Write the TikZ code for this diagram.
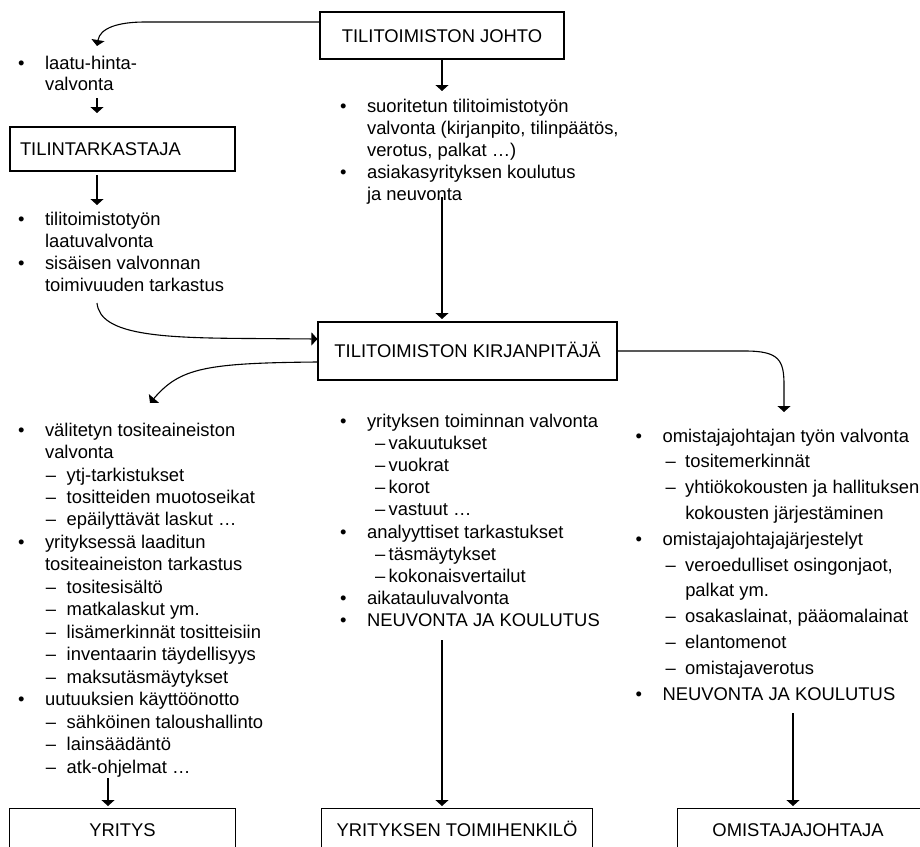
\documentclass[tikz,border=0pt]{standalone}
\usepackage{fontspec}
\setmainfont{Liberation Sans}
\usetikzlibrary{arrows.meta}

% list helpers: bullet, continuation, dash items with per-column offsets
\newcommand\topstrut{\rule{0pt}{18pt}}
\newcommand\bul{\makebox[27pt][l]{•}}
\newcommand\cont{\hspace*{27pt}}
\newcommand\dashat[2]{\hspace*{\dimexpr27pt+#1\relax}\makebox[\dimexpr#2-#1\relax][l]{–}}
\newcommand\subat[1]{\hspace*{\dimexpr27pt+#1\relax}}
\newcommand\dashL{\dashat{0.7pt}{21.7pt}}
\newcommand\dashM{\dashat{8pt}{21.7pt}}
\newcommand\dashR{\dashat{3pt}{22.7pt}}
\newcommand\subR{\subat{22.7pt}}

\begin{document}
\begin{tikzpicture}[x=1pt,y=-1pt,
  line width=1.1pt,
  arr/.style={-{Triangle[width=13pt,length=6pt]}},
  box/.style={draw, inner sep=0pt, text height=13pt, text depth=0pt,
    font=\fontsize{18.4pt}{22.4pt}\selectfont},
  openbox/.style={inner sep=0pt, text height=18pt, text depth=0pt,
    minimum height=37pt, font=\fontsize{18.4pt}{22.4pt}\selectfont},
  tx/.style={anchor=north west, inner sep=0pt, align=left},
  ls/.style={font=\fontsize{18.4pt}{#1}\selectfont}]

\useasboundingbox (0,0) rectangle (920,846);
\clip (0,0) rectangle (920,846);

% boxes
\node[box, minimum width=244pt, minimum height=47pt] (johto) at (442,35.5) {TILITOIMISTON JOHTO};
\node[box, align=left, text width=205pt, inner xsep=10pt, minimum height=44pt] (tilintark) at (122.5,149) {TILINTARKASTAJA};
\node[box, minimum width=299pt, minimum height=58pt] (kirj) at (467.5,351) {TILITOIMISTON KIRJANPITÄJÄ};

% bottom boxes run off the lower edge, so only three sides show
\node[openbox, minimum width=225pt] (yritys) at (122.5,827.5) {YRITYS};
\node[openbox, minimum width=270pt] (toimih) at (457,827.5) {YRITYKSEN TOIMIHENKILÖ};
\node[openbox, minimum width=250pt] (omist) at (803,827.5) {OMISTAJAJOHTAJA\hspace*{10pt}};
\foreach \b in {yritys,toimih,omist}
  \draw ([yshift=-6pt]\b.south west) -- (\b.north west) -- (\b.north east) -- ([yshift=-6pt]\b.south east);

% text blocks
\node[tx, ls=21.5pt] (laatu) at (17.5,50.5) {\topstrut\bul laatu-hinta-\\ \cont valvonta};
\node[tx, ls=22.3pt] (tbul) at (17.5,206.5) {\topstrut\bul tilitoimistotyön\\ \cont laatuvalvonta\\ \bul sisäisen valvonnan\\ \cont toimivuuden tarkastus};
\node[tx, ls=22pt] (mtop) at (339.5,93.5) {\topstrut\bul suoritetun tilitoimistotyön\\ \cont valvonta (kirjanpito, tilinpäätös,\\ \cont verotus, palkat …)\\ \bul asiakasyrityksen koulutus\\ \cont ja neuvonta};

\node[tx, ls=22.47pt] (lcol) at (17.5,417.5) {\topstrut\bul välitetyn tositeaineiston\\
  \cont valvonta\\
  \dashL ytj-tarkistukset\\
  \dashL tositteiden muotoseikat\\
  \dashL epäilyttävät laskut …\\
  \bul yrityksessä laaditun\\
  \cont tositeaineiston tarkastus\\
  \dashL tositesisältö\\
  \dashL matkalaskut ym.\\
  \dashL lisämerkinnät tositteisiin\\
  \dashL inventaarin täydellisyys\\
  \dashL maksutäsmäytykset\\
  \bul uutuuksien käyttöönotto\\
  \dashL sähköinen taloushallinto\\
  \dashL lainsäädäntö\\
  \dashL atk-ohjelmat …};

\node[tx, ls=22.2pt] (mcol) at (339.5,408.5) {\topstrut\bul yrityksen toiminnan valvonta\\
  \dashM vakuutukset\\
  \dashM vuokrat\\
  \dashM korot\\
  \dashM vastuut …\\
  \bul analyyttiset tarkastukset\\
  \dashM täsmäytykset\\
  \dashM kokonaisvertailut\\
  \bul aikatauluvalvonta\\
  \bul NEUVONTA JA KOULUTUS};

\node[tx, ls=25.8pt] (rcol) at (635,423.5) {\topstrut\bul omistajajohtajan työn valvonta\\
  \dashR tositemerkinnät\\
  \dashR yhtiökokousten ja hallituksen\\
  \subR kokousten järjestäminen\\
  \bul omistajajohtajajärjestelyt\\
  \dashR veroedulliset osingonjaot,\\
  \subR palkat ym.\\
  \dashR osakaslainat, pääomalainat\\
  \dashR elantomenot\\
  \dashR omistajaverotus\\
  \bul NEUVONTA JA KOULUTUS};

% free connector ends
\coordinate (laatuTip) at (97,46);
\coordinate (laatuOut) at (97,98);
\coordinate (tilIn) at (97,113);
\coordinate (tilOut) at (97,175);
\coordinate (tbulIn) at (97,205);
\coordinate (tbulOut) at (97,303);
\coordinate (mtopIn) at (442,91);
\coordinate (mtopOut) at (442,197);
\coordinate (kirjTop) at (442,319);
\coordinate (lcolTip) at (150,403);
\coordinate (rcolTip) at (784,412);
\coordinate (lcolOut) at (108,778);
\coordinate (yritysIn) at (108,806);
\coordinate (mcolOut) at (442,640);
\coordinate (toimihIn) at (442,806);
\coordinate (rcolOut) at (793,713);
\coordinate (omistIn) at (793,806);

% connectors
\draw[arr] ([yshift=13.5pt]johto.west) -- (145,22) .. controls (118,22) and (100,28) .. (laatuTip);
\draw[arr] (laatuOut) -- (tilIn);
\draw[arr] (tilOut) -- (tbulIn);
\draw[arr] (johto.south) -- (mtopIn);
\draw[arr] (mtopOut) -- (kirjTop);
\draw[arr] (tbulOut) .. controls (100,335) and (160,338) .. (250,338.5) -- ([yshift=12pt]kirj.west);
\draw[arr] ([yshift=-11pt]kirj.west) .. controls (205,363) and (180,368) .. (lcolTip);
\draw[arr] (kirj.east) -- (745,351) .. controls (779,351) and (784,360) .. (784,385) -- (rcolTip);
\draw[arr] (lcolOut) -- (yritysIn);
\draw[arr] (mcolOut) -- (toimihIn);
\draw[arr] (rcolOut) -- (omistIn);
\end{tikzpicture}
\end{document}
